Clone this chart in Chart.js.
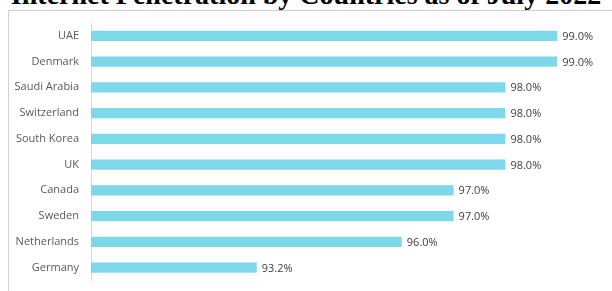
<!DOCTYPE html>
<html>
<head>
    <meta charset="UTF-8">
    <title>Internet Penetration by Countries as of July 2022</title>
    <script src="https://cdn.jsdelivr.net/npm/chart.js"></script>
    <style>
        body {
            margin: 0;
            width: 612px;
            height: 291px;
            overflow: hidden;
            background: #fff;
            position: relative;
        }

        .title {
            position: absolute;
            left: 0;
            top: -19px;
            width: 612px;
            text-align: center;
            font-family: "Liberation Serif", "Times New Roman", serif;
            font-weight: bold;
            font-size: 28px;
            line-height: 28px;
            color: #000;
            white-space: nowrap;
        }

        .box {
            position: absolute;
            left: 8px;
            top: 10px;
            width: 640px;
            height: 320px;
            border: 1px solid #d0d0d0;
        }

        #penetrationChart {
            position: absolute;
            left: 0;
            top: 0;
        }
    </style>
</head>
<body>
    <div class="title">Internet Penetration by Countries as of July 2022</div>
    <div class="box"></div>
    <canvas id="penetrationChart" width="612" height="291"></canvas>

    <script>
        // data
        var countries = ['UAE', 'Denmark', 'Saudi Arabia', 'Switzerland', 'South Korea', 'UK', 'Canada', 'Sweden', 'Netherlands', 'Germany'];
        var penetration = [99.0, 99.0, 98.0, 98.0, 98.0, 98.0, 97.0, 97.0, 96.0, 93.2];

        // draws the value at the end of each bar
        var valueLabels = {
            id: 'valueLabels',
            afterDatasetsDraw: function(chart) {
                var ctx = chart.ctx;
                var meta = chart.getDatasetMeta(0);
                ctx.save();
                ctx.font = '11px "Open Sans", "Liberation Sans", sans-serif';
                ctx.fillStyle = '#404040';
                ctx.textAlign = 'left';
                ctx.textBaseline = 'middle';
                meta.data.forEach(function(bar, i) {
                    ctx.fillText(penetration[i].toFixed(1) + '%', bar.x + 5, bar.y + 1);
                });
                ctx.restore();
            }
        };

        var ctx = document.getElementById('penetrationChart').getContext('2d');
        var chart = new Chart(ctx, {
            type: 'bar',
            data: {
                labels: countries,
                datasets: [{
                    data: penetration,
                    backgroundColor: '#7dd8ea',
                    borderWidth: 0,
                    barPercentage: 0.4,
                    categoryPercentage: 1
                }]
            },
            options: {
                indexAxis: 'y',
                responsive: false,
                animation: false,
                layout: {
                    padding: { left: 0, right: 3, top: 23, bottom: 8 }
                },
                plugins: {
                    legend: { display: false },
                    title: { display: false },
                    tooltip: { enabled: false }
                },
                scales: {
                    x: {
                        display: false,
                        min: 90,
                        max: 100
                    },
                    y: {
                        afterFit: function(scale) { scale.width = 91; },
                        grid: { display: false },
                        border: { display: true, color: '#d9d9d9', width: 1 },
                        ticks: {
                            padding: 4,
                            color: '#595959',
                            font: { family: '"Open Sans", "Liberation Sans", sans-serif', size: 11 }
                        }
                    }
                }
            },
            plugins: [valueLabels]
        });
    </script>
</body>
</html>
